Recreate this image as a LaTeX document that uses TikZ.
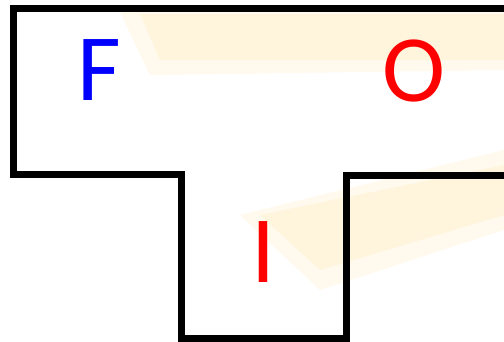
\documentclass[tikz,border=0pt]{standalone}
\usepackage{fontspec}
\setmainfont{Carlito}
\tikzset{
  letter/.style={inner sep=0pt, font=\fontsize{95}{95}\selectfont},
  outline/.style={draw=black, line width=7pt, line join=miter},
  glow/.style={fill=orange!60!yellow, opacity=0.07}
}
\begin{document}
\begin{tikzpicture}[x=1pt,y=-1pt]
\useasboundingbox (0,0) rectangle (504,341);
% faint background
\fill[glow] (120,12) -- (504,12) -- (504,70) -- (150,75) -- cycle;
\fill[glow] (140,14) -- (504,14) -- (504,60) -- (160,60) -- cycle;
\fill[glow] (240,215) -- (504,150) -- (504,230) -- (320,290) -- cycle;
\fill[glow] (260,215) -- (504,165) -- (504,215) -- (320,270) -- cycle;

\draw[outline] (510,8) -- (13,8) -- (13,174) -- (181,174) -- (181,338)
  -- (346,338) -- (346,175) -- (510,175);

\node[letter, text=blue] (f) at (99,70) {F};
\node[letter, text=red] (o) at (414,71) {O};
\node[letter, text=red] (i) at (263.5,252) {I};
\end{tikzpicture}
\end{document}
